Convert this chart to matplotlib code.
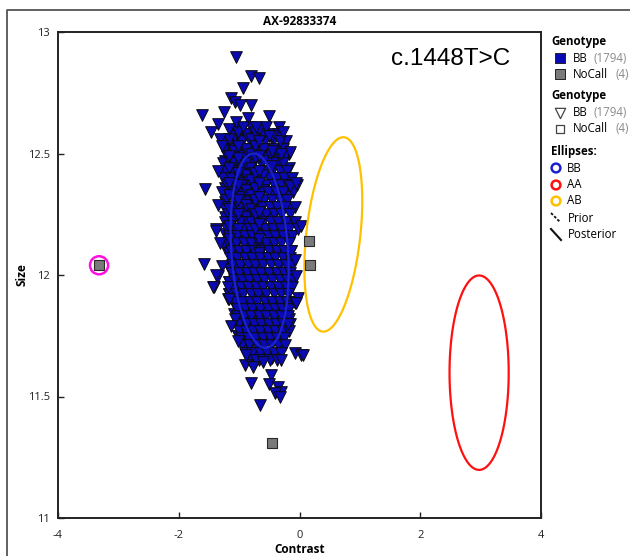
import numpy as np
import matplotlib
matplotlib.use("Agg")
import matplotlib.pyplot as plt
from matplotlib.patches import Polygon

plt.rcParams['font.family'] = ['Open Sans', 'DejaVu Sans']

# ---------------- data ----------------
title = "AX-92833374"
annotation = "c.1448T>C"
x_ticks = [-4, -2, 0, 2, 4]
y_ticks = [11, 11.5, 12, 12.5, 13]
y_tick_labels = ["11", "11.5", "12", "12.5", "13"]

# BB calls: scattered points around the cluster edge (contrast, size)
bb_edge_x = [-1.05, -0.80, -0.67, -0.93, -1.13, -1.07, -0.99, -0.80, -1.61, -1.25,
             -0.50, -1.35, -1.06, -0.85, -0.34, -0.28, -1.46, -1.17, -0.72, -0.56,
             -0.94, -0.50, -1.32, -1.57, -0.165, -0.30, -0.04, -0.165, -0.03, -1.38,
             -1.35, -1.35, -1.29, -1.58, -1.29, -1.35, -1.42, -1.19, -1.19, -0.03,
             -0.08, -0.055, -0.14, -1.07, -1.13, -0.19, -0.08, 0.03, -0.91, -0.88,
             -0.77, -0.61, -0.30, -0.47, -0.80, -0.50, -0.36, -0.30, -0.41, -0.33,
             -0.66, -1.39, -1.32, -1.38, -1.43, -1.16, -1.02, 0.05, 0.03, -0.08,
             -0.055, -0.055]
bb_edge_y = [12.896, 12.82, 12.81, 12.77, 12.73, 12.71, 12.70, 12.70, 12.66, 12.67,
             12.655, 12.62, 12.63, 12.645, 12.61, 12.59, 12.59, 12.60, 12.61, 12.61,
             12.61, 12.57, 12.56, 12.355, 12.506, 12.50, 12.37, 12.366, 12.19, 12.19,
             12.29, 12.43, 12.53, 12.046, 12.036, 11.995, 11.95, 11.95, 11.90, 11.906,
             11.885, 11.995, 12.10, 11.82, 11.79, 11.80, 11.68, 11.67, 11.63, 11.67,
             11.62, 11.64, 11.65, 11.59, 11.555, 11.55, 11.54, 11.52, 11.515, 11.50,
             11.466, 12.18, 12.13, 12.00, 11.95, 11.90, 11.73, 11.67, 12.20, 12.06,
             12.38, 11.885]

# BB calls: dense core, read row by row (size value -> contrast values)
core_rows = {
    12.58: [-1.10, -0.98, -0.86, -0.71, -0.60, -0.45, -0.36],
    12.55: [-1.22, -1.08, -0.95, -0.82, -0.70, -0.57, -0.44, -0.31, -0.22],
    12.52: [-1.25, -1.12, -1.01, -0.90, -0.76, -0.63, -0.52, -0.40, -0.27],
    12.49: [-1.20, -1.06, -0.94, -0.83, -0.69, -0.58, -0.47, -0.35, -0.24],
    12.46: [-1.27, -1.15, -1.02, -0.89, -0.77, -0.64, -0.51, -0.39, -0.28],
    12.43: [-1.22, -1.09, -0.97, -0.84, -0.72, -0.60, -0.45, -0.33, -0.21],
    12.40: [-1.26, -1.13, -1.00, -0.88, -0.75, -0.63, -0.50, -0.38, -0.26, -0.12],
    12.37: [-1.20, -1.07, -0.95, -0.81, -0.69, -0.56, -0.43, -0.31, -0.19],
    12.34: [-1.28, -1.14, -1.02, -0.90, -0.77, -0.64, -0.52, -0.39, -0.27, -0.10],
    12.31: [-1.21, -1.09, -0.96, -0.84, -0.71, -0.58, -0.46, -0.33, -0.20],
    12.28: [-1.25, -1.12, -1.00, -0.87, -0.75, -0.62, -0.49, -0.37, -0.24, -0.08],
    12.25: [-1.19, -1.06, -0.93, -0.80, -0.68, -0.55, -0.43, -0.30, -0.16],
    12.22: [-1.24, -1.11, -0.98, -0.86, -0.73, -0.61, -0.48, -0.35, -0.22, -0.07],
    12.19: [-1.20, -1.07, -0.94, -0.82, -0.69, -0.57, -0.44, -0.31, -0.17],
    12.16: [-1.16, -1.03, -0.91, -0.78, -0.66, -0.53, -0.40, -0.27, -0.13],
    12.13: [-1.18, -1.05, -0.92, -0.80, -0.67, -0.55, -0.42, -0.30, -0.18],
    12.10: [-1.13, -1.01, -0.88, -0.76, -0.63, -0.50, -0.38, -0.25, -0.14],
    12.07: [-1.15, -1.03, -0.90, -0.78, -0.65, -0.53, -0.40, -0.28, -0.16],
    12.04: [-1.11, -0.98, -0.86, -0.73, -0.61, -0.48, -0.36, -0.23, -0.12],
    12.01: [-1.12, -1.00, -0.87, -0.75, -0.63, -0.50, -0.38, -0.26, -0.15],
    11.98: [-1.08, -0.96, -0.83, -0.71, -0.58, -0.46, -0.33, -0.21, -0.11],
    11.95: [-1.10, -0.97, -0.85, -0.72, -0.60, -0.47, -0.35, -0.23, -0.13],
    11.92: [-1.05, -0.93, -0.81, -0.68, -0.56, -0.43, -0.31, -0.19],
    11.89: [-1.07, -0.95, -0.82, -0.70, -0.57, -0.45, -0.33, -0.21, -0.12],
    11.86: [-1.03, -0.91, -0.78, -0.66, -0.53, -0.41, -0.29, -0.17],
    11.83: [-1.04, -0.92, -0.80, -0.67, -0.55, -0.43, -0.31, -0.19],
    11.80: [-1.00, -0.88, -0.76, -0.63, -0.51, -0.39, -0.27, -0.16],
    11.77: [-1.01, -0.89, -0.77, -0.65, -0.52, -0.40, -0.28, -0.18],
    11.74: [-0.97, -0.85, -0.73, -0.61, -0.49, -0.37, -0.25],
    11.71: [-0.95, -0.83, -0.71, -0.59, -0.47, -0.35, -0.24],
    11.68: [-0.90, -0.78, -0.66, -0.54, -0.42, -0.31],
    11.65: [-0.84, -0.72, -0.60, -0.49, -0.38],
}

# BB calls: dense core, read column by column (contrast value -> size values)
core_cols = {
    -1.23: [12.52, 12.47, 12.41, 12.36, 12.30, 12.24, 12.17, 12.11],
    -1.16: [12.56, 12.49, 12.44, 12.38, 12.33, 12.27, 12.20, 12.15, 12.09, 12.03, 11.97, 11.92],
    -1.09: [12.57, 12.51, 12.46, 12.40, 12.34, 12.28, 12.23, 12.18, 12.12, 12.05, 12.00, 11.94, 11.88, 11.84],
    -1.02: [12.59, 12.53, 12.48, 12.42, 12.37, 12.31, 12.25, 12.19, 12.14, 12.08, 12.02, 11.96, 11.91, 11.85, 11.79, 11.75],
    -0.95: [12.60, 12.55, 12.49, 12.44, 12.38, 12.32, 12.27, 12.21, 12.15, 12.09, 12.04, 11.98, 11.92, 11.87, 11.81, 11.76, 11.71],
    -0.88: [12.58, 12.52, 12.46, 12.41, 12.35, 12.29, 12.24, 12.18, 12.12, 12.07, 12.01, 11.95, 11.89, 11.84, 11.78, 11.73, 11.68],
    -0.81: [12.61, 12.56, 12.50, 12.44, 12.39, 12.33, 12.27, 12.22, 12.16, 12.10, 12.05, 11.99, 11.93, 11.88, 11.82, 11.76, 11.71, 11.66],
    -0.74: [12.59, 12.53, 12.48, 12.42, 12.36, 12.31, 12.25, 12.19, 12.13, 12.08, 12.02, 11.96, 11.91, 11.85, 11.79, 11.74, 11.68, 11.64],
    -0.67: [12.60, 12.55, 12.49, 12.43, 12.38, 12.32, 12.26, 12.21, 12.15, 12.09, 12.03, 11.98, 11.92, 11.86, 11.81, 11.75, 11.70, 11.65],
    -0.60: [12.58, 12.52, 12.47, 12.41, 12.35, 12.30, 12.24, 12.18, 12.12, 12.07, 12.01, 11.95, 11.90, 11.84, 11.78, 11.73, 11.67],
    -0.53: [12.59, 12.54, 12.48, 12.42, 12.37, 12.31, 12.25, 12.20, 12.14, 12.08, 12.03, 11.97, 11.91, 11.85, 11.80, 11.74, 11.69, 11.64],
    -0.46: [12.57, 12.51, 12.45, 12.40, 12.34, 12.28, 12.23, 12.17, 12.11, 12.06, 12.00, 11.94, 11.88, 11.83, 11.77, 11.72, 11.66],
    -0.39: [12.58, 12.53, 12.47, 12.41, 12.36, 12.30, 12.24, 12.19, 12.13, 12.07, 12.02, 11.96, 11.90, 11.85, 11.79, 11.73, 11.68],
    -0.32: [12.55, 12.49, 12.44, 12.38, 12.32, 12.27, 12.21, 12.15, 12.10, 12.04, 11.98, 11.93, 11.87, 11.81, 11.76, 11.70],
    -0.25: [12.53, 12.47, 12.42, 12.36, 12.30, 12.25, 12.19, 12.13, 12.08, 12.02, 11.96, 11.91, 11.85, 11.79, 11.75],
    -0.18: [12.50, 12.44, 12.39, 12.33, 12.27, 12.22, 12.16, 12.10, 12.05, 11.99, 11.93, 11.88, 11.82],
    -0.11: [12.41, 12.35, 12.29, 12.24, 12.18, 12.12, 12.06, 12.01, 11.95, 11.90],
}

# NoCall samples
nocall_x = [-3.32, 0.15, 0.18, -0.46]
nocall_y = [12.04, 12.14, 12.04, 11.31]
highlight_x = [-3.32]
highlight_y = [12.04]

# Posterior ellipses: centre x, centre y, half-width, half-height, shift of top
ell_names = ["BB", "AB", "AA"]
ell_colors = ["#1a22d0", "#ffc000", "#ff1010"]
ell_cx = [-0.66, 0.56, 2.975]
ell_cy = [12.10, 12.167, 11.598]
ell_rx = [0.47, 0.45, 0.49]
ell_ry = [0.40, 0.40, 0.40]
ell_shift = [-0.10, 0.165, 0.0]

# ---------------- figure ----------------
W, H = 630, 556
fig = plt.figure(figsize=(W / 100, H / 100), dpi=100)
fig.patch.set_facecolor("white")

ax = fig.add_axes([58 / W, 1 - 518 / H, (541 - 58) / W, (518 - 32) / H])

# assemble BB points; interleave rows and columns so the drawing order is mixed
bx, by = [], []
row_items = list(core_rows.items())
col_items = list(core_cols.items())
n = max(len(row_items), len(col_items))
for i in range(n):
    if i < len(row_items):
        yv, xs = row_items[i]
        bx.extend(xs)
        by.extend([yv] * len(xs))
    if i < len(col_items):
        xv, ys = col_items[-1 - i] if i % 2 else col_items[i // 2]
        bx.extend([xv] * len(ys))
        by.extend(ys)
bx.extend(bb_edge_x)
by.extend(bb_edge_y)

ax.scatter(bx, by, marker="v", s=70, facecolor="#0a0ab4", edgecolor="#0c0c14",
           linewidths=0.75, zorder=3)

t = np.linspace(0, 2 * np.pi, 300)
for cx, cy, rx, ry, sh, col in zip(ell_cx, ell_cy, ell_rx, ell_ry, ell_shift, ell_colors):
    ex = cx + rx * np.cos(t) + sh * np.sin(t)
    ey = cy + ry * np.sin(t)
    ax.add_patch(Polygon(np.column_stack([ex, ey]), closed=True, fill=False,
                         edgecolor=col, lw=1.6, zorder=4))

ax.scatter(nocall_x, nocall_y, marker="s", s=42, facecolor="#7a7a7a",
           edgecolor="#2a2a2a", linewidths=0.8, zorder=5)
ax.scatter(highlight_x, highlight_y, marker="o", s=170, facecolor="none",
           edgecolor="#ff10e0", linewidths=1.8, zorder=6)

ax.set_xlim(-4, 4)
ax.set_ylim(11, 13)
ax.set_xticks(x_ticks)
ax.set_xticklabels([str(v) for v in x_ticks])
ax.set_yticks(y_ticks)
ax.set_yticklabels(y_tick_labels)
ax.tick_params(direction="in", length=4, width=1, labelsize=8, colors="#222222")
ax.tick_params(axis="x", pad=9)
ax.tick_params(axis="y", pad=6)
for sp in ax.spines.values():
    sp.set_linewidth(1.4)
    sp.set_color("#222222")
ax.set_xlabel("Contrast", fontsize=8.5, fontweight="bold", labelpad=1)
ax.set_ylabel("Size", fontsize=8.5, fontweight="bold", labelpad=-1)
ax.set_title(title, fontsize=8.5, fontweight="bold", pad=5)
ax.text(0.69, 0.945, annotation, transform=ax.transAxes, fontsize=17.5,
        family=["Liberation Sans", "DejaVu Sans"], ha="left", va="center")

# ---------------- overlay (frame + legend) ----------------
ov = fig.add_axes([0, 0, 1, 1], zorder=10)
ov.set_xlim(0, W)
ov.set_ylim(H, 0)
ov.axis("off")
ov.patch.set_alpha(0)

ov.plot([7, 7, W + 5], [H + 5, 10, 10], color="#555555", lw=1.3, clip_on=False)

fs = 8.3
gray = "#8a8a8a"
ov.text(551, 41, "Genotype", fontsize=fs, fontweight="bold", va="center")
ov.scatter([560], [58], marker="s", s=45, facecolor="#0a0ab4", edgecolor="#222222", lw=0.7)
ov.text(573, 58, "BB", fontsize=fs, va="center")
ov.text(594, 58, "(1794)", fontsize=fs, va="center", color=gray)
ov.scatter([560], [74], marker="s", s=45, facecolor="#7a7a7a", edgecolor="#222222", lw=0.7)
ov.text(573, 74, "NoCall", fontsize=fs, va="center")
ov.text(615, 74, "(4)", fontsize=fs, va="center", color=gray)

ov.text(551, 96, "Genotype", fontsize=fs, fontweight="bold", va="center")
ov.scatter([560], [113], marker="v", s=55, facecolor="white", edgecolor="#444444", lw=0.9)
ov.text(573, 113, "BB", fontsize=fs, va="center")
ov.text(594, 113, "(1794)", fontsize=fs, va="center", color=gray)
ov.scatter([560], [129], marker="s", s=40, facecolor="white", edgecolor="#444444", lw=0.9)
ov.text(573, 129, "NoCall", fontsize=fs, va="center")
ov.text(615, 129, "(4)", fontsize=fs, va="center", color=gray)

ov.text(551, 152, "Ellipses:", fontsize=fs, fontweight="bold", va="center")
for yy, col, name in zip([168, 185, 201], ["#1a22d0", "#ff1010", "#ffc000"], ["BB", "AA", "AB"]):
    ov.scatter([556], [yy], marker="o", s=40, facecolor="none", edgecolor=col, lw=1.8)
    ov.text(567, yy, name, fontsize=fs, va="center")
ov.plot([551, 560], [213, 222], color="#111111", lw=1.3, ls=(0, (1.5, 1)))
ov.text(568, 218, "Prior", fontsize=fs, va="center")
ov.plot([551, 561], [229, 240], color="#111111", lw=1.5)
ov.text(568, 235, "Posterior", fontsize=fs, va="center")

fig.savefig("out.png", dpi=100, facecolor="white")
